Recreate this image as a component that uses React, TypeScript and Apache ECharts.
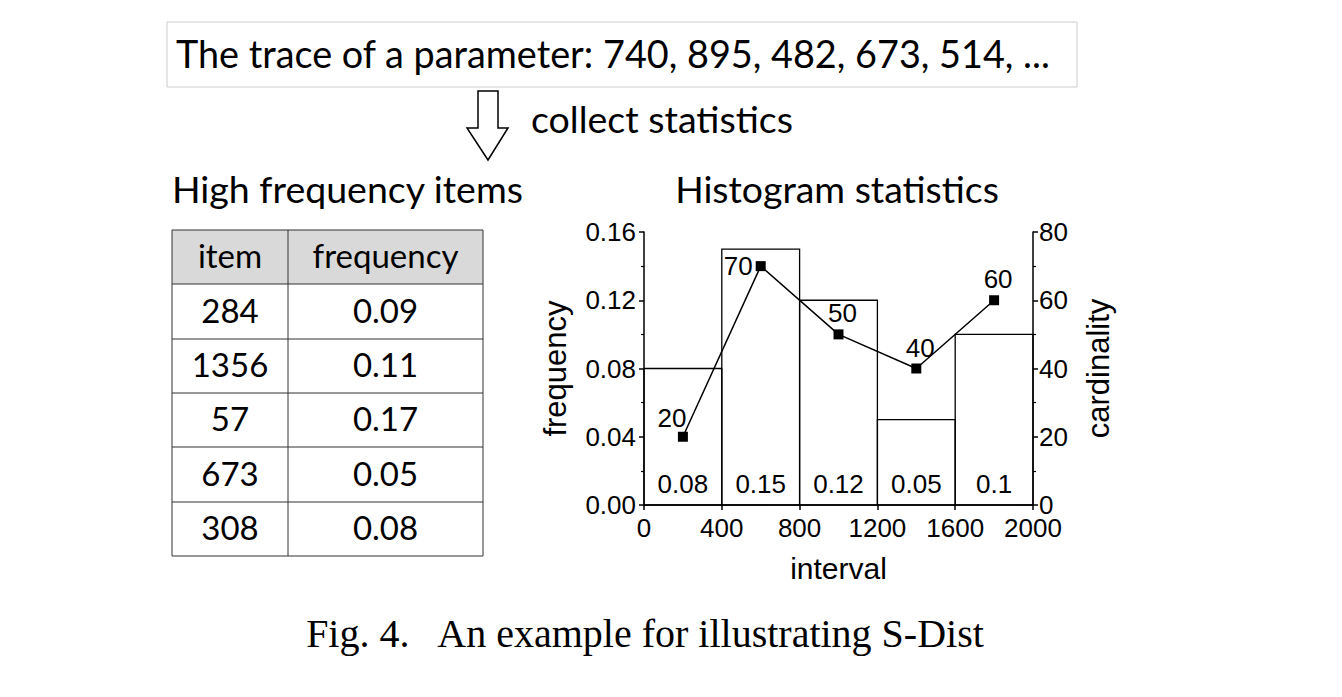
import React, { useEffect, useRef } from "react";
import * as echarts from "echarts";

// ---- data ----
const traceText = "The trace of a parameter: 740, 895, 482, 673, 514, ...";
const arrowText = "collect statistics";
const tableTitle = "High frequency items";
const chartTitle = "Histogram statistics";
const caption = "Fig. 4.   An example for illustrating S-Dist";

const tableHeader = ["item", "frequency"];
const tableItems = ["284", "1356", "57", "673", "308"];
const tableFreq = ["0.09", "0.11", "0.17", "0.05", "0.08"];

const binStarts = [0, 400, 800, 1200, 1600];
const binEnds = [400, 800, 1200, 1600, 2000];
const binFreq = [0.08, 0.15, 0.12, 0.05, 0.1];

const cardX = [200, 600, 1000, 1400, 1800];
const cardinality = [20, 70, 50, 40, 60];
const cardLabelPos = ["topLeft", "left", "top", "top", "top"];

const xTicks = { min: 0, max: 2000, interval: 400 };
const yLeftTicks = { min: 0, max: 0.16, interval: 0.04 };
const yRightTicks = { min: 0, max: 80, interval: 20 };

const SANS = "'Liberation Sans', Arial, sans-serif";
const CAL = "Lato, 'Open Sans', sans-serif";
const SERIF = "'Liberation Serif', 'Times New Roman', serif";

function txt(text: string, x: number, y: number, size: number, family: string, align = "left", extra: any = {}) {
  return {
    type: "text",
    silent: true,
    style: {
      text,
      x,
      y,
      fontSize: size,
      fontFamily: family,
      fill: "#000",
      align,
      verticalAlign: "middle",
      textAlign: align,
      textVerticalAlign: "middle",
      ...extra,
    },
  };
}

export default function App() {
  const ref = useRef<HTMLDivElement>(null);
  useEffect(() => {
    document.body.style.margin = "0";
    const chart = echarts.init(ref.current!, null, { renderer: "svg" });

    // table graphic
    const tX0 = 172, tX1 = 288, tX2 = 483;
    const rowY = [230, 284, 339, 393, 447, 502, 556];
    const tableEls: any[] = [];
    tableEls.push({
      type: "rect",
      silent: true,
      shape: { x: tX0, y: rowY[0], width: tX2 - tX0, height: rowY[1] - rowY[0] },
      style: { fill: "#d9d9d9", stroke: "none" },
    });
    for (let i = 0; i < rowY.length; i++) {
      tableEls.push({
        type: "line",
        silent: true,
        shape: { x1: tX0, y1: rowY[i], x2: tX2, y2: rowY[i] },
        style: { stroke: "#333", lineWidth: 1 },
      });
    }
    [tX0, tX1, tX2].forEach((x) =>
      tableEls.push({
        type: "line",
        silent: true,
        shape: { x1: x, y1: rowY[0], x2: x, y2: rowY[rowY.length - 1] },
        style: { stroke: "#333", lineWidth: 1 },
      })
    );
    const c1 = (tX0 + tX1) / 2, c2 = (tX1 + tX2) / 2;
    const TF = 33;
    const dy = -2;
    tableEls.push(txt(tableHeader[0], c1, (rowY[0] + rowY[1]) / 2 + dy, TF, CAL, "center"));
    tableEls.push(txt(tableHeader[1], c2, (rowY[0] + rowY[1]) / 2 + dy, TF, CAL, "center"));
    tableItems.forEach((it, i) => {
      const cy = (rowY[i + 1] + rowY[i + 2]) / 2 + dy;
      tableEls.push(txt(it, c1, cy, TF, CAL, "center"));
      tableEls.push(txt(tableFreq[i], c2, cy, TF, CAL, "center"));
    });

    const labelPositions: any = {
      topLeft: { position: "top", offset: [-11, 2] },
      left: { position: "left", offset: [0, 0] },
      top: { position: "top", offset: [4, 0] },
    };

    const option: any = {
      animation: false,
      grid: { left: 644, right: 309, top: 232, bottom: 192, containLabel: false },
      xAxis: {
        type: "value",
        min: xTicks.min,
        max: xTicks.max,
        interval: xTicks.interval,
        name: "interval",
        nameLocation: "middle",
        nameGap: 48,
        nameTextStyle: { fontFamily: SANS, fontSize: 30, color: "#000" },
        axisLine: { show: true, lineStyle: { color: "#000", width: 1.5 } },
        axisTick: { show: true, inside: false, length: 5, lineStyle: { color: "#000", width: 1.5 } },
        axisLabel: {
          color: "#000",
          fontFamily: SANS,
          fontSize: 26,
          lineHeight: 20,
          margin: 13,
          formatter: (v: number) => String(v),
        },
        splitLine: { show: false },
      },
      yAxis: [
        {
          type: "value",
          position: "left",
          min: yLeftTicks.min,
          max: yLeftTicks.max,
          interval: yLeftTicks.interval,
          name: "frequency",
          nameLocation: "middle",
          nameGap: 73,
          nameTextStyle: { fontFamily: SANS, fontSize: 31, color: "#000" },
          axisLine: { show: true, lineStyle: { color: "#000", width: 1.5 } },
          axisTick: { show: true, inside: false, length: 5, lineStyle: { color: "#000", width: 1.5 } },
          minorTick: { show: true, splitNumber: 2, length: 3, lineStyle: { color: "#000", width: 1.2 } },
          axisLabel: {
            color: "#000",
            fontFamily: SANS,
            fontSize: 26,
            lineHeight: 18,
            margin: 8,
            formatter: (v: number) => v.toFixed(2),
          },
          splitLine: { show: false },
        },
        {
          type: "value",
          position: "right",
          min: yRightTicks.min,
          max: yRightTicks.max,
          interval: yRightTicks.interval,
          name: "cardinality",
          nameLocation: "middle",
          nameGap: 50,
          nameTextStyle: { fontFamily: SANS, fontSize: 31, color: "#000" },
          axisLine: { show: true, lineStyle: { color: "#000", width: 1.5 } },
          axisTick: { show: true, inside: false, length: 5, lineStyle: { color: "#000", width: 1.5 } },
          minorTick: { show: true, splitNumber: 2, length: 3, lineStyle: { color: "#000", width: 1.2 } },
          axisLabel: { color: "#000", fontFamily: SANS, fontSize: 26, lineHeight: 18, margin: 6 },
          splitLine: { show: false },
        },
      ],
      series: [
        {
          type: "custom",
          name: "frequency",
          yAxisIndex: 0,
          data: binStarts.map((s, i) => [s, binEnds[i], binFreq[i]]),
          encode: { x: [0, 1], y: 2 },
          renderItem: (params: any, api: any) => {
            const p0 = api.coord([api.value(0), api.value(2)]);
            const p1 = api.coord([api.value(1), 0]);
            return {
              type: "group",
              children: [
                {
                  type: "rect",
                  shape: { x: p0[0], y: p0[1], width: p1[0] - p0[0], height: p1[1] - p0[1] },
                  style: { fill: "none", stroke: "#000", lineWidth: 1.3 },
                },
                {
                  type: "text",
                  style: {
                    text: String(api.value(2)),
                    x: (p0[0] + p1[0]) / 2,
                    y: p1[1] - 21,
                    fontSize: 26,
                    fontFamily: SANS,
                    fill: "#000",
                    align: "center",
                    verticalAlign: "middle",
                    textAlign: "center",
                    textVerticalAlign: "middle",
                  },
                },
              ],
            };
          },
          z: 1,
        },
        {
          type: "line",
          name: "cardinality",
          yAxisIndex: 1,
          symbol: "rect",
          symbolSize: 10,
          itemStyle: { color: "#000" },
          lineStyle: { color: "#000", width: 1.5 },
          data: cardX.map((x, i) => ({
            value: [x, cardinality[i]],
            label: {
              show: true,
              color: "#000",
              fontFamily: SANS,
              fontSize: 26,
              distance: 3,
              ...labelPositions[cardLabelPos[i]],
            },
          })),
          z: 3,
        },
      ],
      graphic: [
        {
          type: "rect",
          silent: true,
          shape: { x: 167, y: 22, width: 910, height: 65 },
          style: { fill: "none", stroke: "#cccccc", lineWidth: 1 },
        },
        txt(traceText, 176, 53, 37.8, CAL, "left"),
        {
          type: "polygon",
          silent: true,
          shape: {
            points: [
              [478, 91],
              [498, 91],
              [498, 128],
              [508, 128],
              [488, 160],
              [467, 128],
              [478, 128],
            ],
          },
          style: { fill: "#fff", stroke: "#000", lineWidth: 1.5 },
        },
        txt(arrowText, 531, 118, 37.5, CAL, "left"),
        txt(tableTitle, 172, 188, 37.5, CAL, "left"),
        txt(chartTitle, 837, 188, 37.4, CAL, "center"),
        ...tableEls,
        txt(caption, 645, 633, 40, SERIF, "center"),
      ],
    };
    chart.setOption(option);
    return () => chart.dispose();
  }, []);
  return <div ref={ref} style={{ width: 1342, height: 697 }} />;
}
